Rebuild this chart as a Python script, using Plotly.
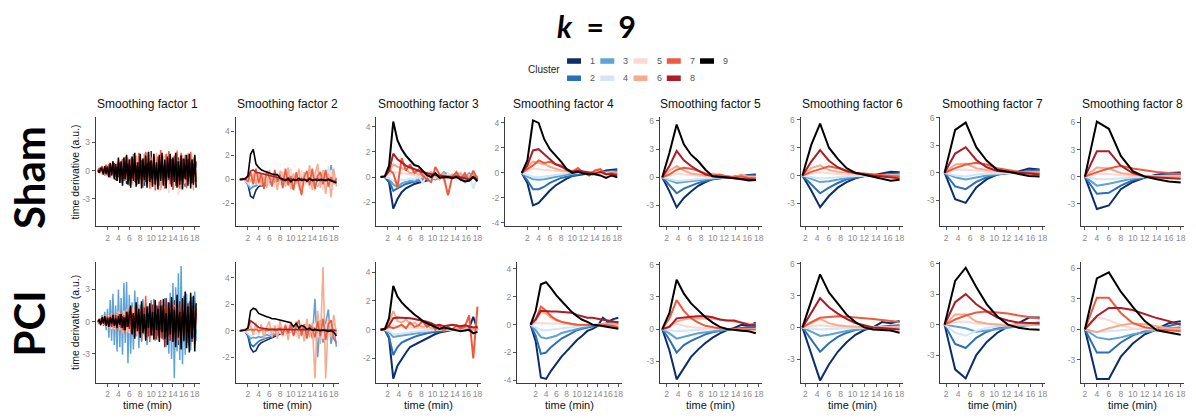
import plotly.graph_objects as go

W, H = 1196, 418

CLUSTERS = ["1", "2", "3", "4", "5", "6", "7", "8", "9"]
COLORS = ["#0b2d6b", "#2b6fb5", "#5ea3d7", "#d4e5f3", "#fadad3",
          "#f6ab8e", "#ef5a3c", "#b01c26", "#000000"]
ROWS = ["Sham", "PCI"]
TITLES = ["Smoothing factor %d" % i for i in range(1, 9)]
TIME_STEP = [0.25, 0.5, 0.75, 1.0, 1.25, 1.5, 1.75, 2.0]
XTICKS = [2, 4, 6, 8, 10, 12, 14, 16, 18]
YTICKS = [[-3, 0, 3], [-2, 0, 2, 4], [-2, 0, 2, 4], [-4, -2, 0, 2, 4],
          [-3, 0, 3, 6], [-3, 0, 3, 6], [-3, 0, 3, 6], [-3, 0, 3, 6]]
YRANGE_SHAM = [[-5.9, 5.7], [-3.9, 5.2], [-3.9, 4.75], [-4.26, 4.47],
               [-5.2, 6.4], [-5.45, 6.3], [-5.86, 6.1], [-5.5, 6.6]]
YRANGE_PCI = [[-5.7, 5.6], [-3.9, 5.2], [-3.67, 4.73], [-4.16, 4.53],
              [-5.0, 6.3], [-5.2, 6.2], [-5.7, 6.2], [-5.25, 6.66]]
XRANGE_SHAM = [[-0.14, 18.9], [-0.29, 19.06], [-0.01, 18.66], [-1.96, 18.84],
               [0.84, 18.52], [1.2, 18.66], [1.06, 18.44], [1.38, 18.55]]
XRANGE_PCI = [[-0.14, 18.9], [-0.29, 19.06], [-0.01, 18.66], [-1.6, 18.7],
              [0.84, 18.52], [1.2, 18.66], [1.06, 18.44], [1.38, 18.55]]

# ---------------- Sham ----------------
SHAM_SF1 = [
    [-0.1, 0.2, -0.3, 0.1, 0.4, -0.5, 0.2, -0.3, 0.5, -0.7, 0.4, -0.3, 0.8, -1.0, 0.6, -0.4,
     0.9, -0.8, 1.2, -1.1, 0.5, -1.4, 0.7, 1.0, -0.9, 1.3, -0.6, 0.8, -1.3, 1.1, -0.5, 1.5,
     -1.2, 0.6, -1.6, 1.9, -0.8, 1.2, -1.0, 2.1, -1.4, 0.7, -1.1, 1.5, -0.6, 1.3, -1.8, 0.9,
     -1.5, 1.7, -0.8, 1.0, -1.3, 1.6, -0.7, -2.0, 1.2, -1.6, 0.9, 1.4, -1.9, 0.8, -1.2, 1.1,
     -1.7, 1.3, -0.9, 0.7, -1.4, 1.5, -1.1, 0.6, -1.0],
    [0.1, -0.2, 0.3, -0.1, 0.2, -0.4, 0.3, 0.1, -0.5, 0.4, -0.2, 0.6, -0.5, 0.3, -0.7, 0.5,
     -0.4, 0.8, -0.6, 0.3, -0.9, 0.7, -0.3, 0.6, -1.0, 0.5, 0.9, -0.7, 0.4, -1.1, 0.8, -0.5,
     1.0, -0.9, 0.6, -0.4, 1.2, -1.0, 0.5, -0.8, 1.1, -0.6, 0.7, -1.2, 0.9, -0.3, 1.0, -0.9,
     0.4, -1.1, 1.2, -0.6, 0.8, -1.0, 0.5, 0.9, -1.2, 0.7, -0.5, 1.1, -0.8, 0.6, -1.0, 1.2,
     -0.7, 0.9, -1.1, 0.4, 1.0, -0.8, 0.6, -1.2, 0.8],
    [-0.2, 0.1, 0.3, -0.3, 0.2, 0.5, -0.4, 0.3, -0.6, 0.2, 0.7, -0.5, 0.4, -0.8, 0.6, -0.3,
     0.9, -0.7, 0.5, -1.0, 0.8, -0.4, 1.1, -0.9, 0.3, -1.2, 1.0, -0.6, 0.7, -1.1, 1.3, -0.5,
     0.8, -1.3, 0.6, 1.0, -0.9, 0.4, -1.2, 1.1, -0.7, 0.9, -1.4, 0.5, 1.2, -0.8, 0.6, -1.0,
     1.3, -1.1, 0.4, -0.9, 1.0, -1.3, 0.8, -0.5, 1.2, -0.6, 0.9, -1.4, 0.7, 1.1, -1.2, 0.5,
     -0.8, 1.3, -1.0, 0.6, -1.1, 0.9, -0.4, 1.2, -0.9],
    [0.2, -0.1, -0.3, 0.4, -0.2, 0.3, 0.5, -0.6, 0.4, -0.3, 0.7, -0.8, 0.2, 0.6, -0.9, 0.5,
     -0.4, 1.0, -0.7, 0.3, 1.2, -1.1, 0.6, -0.5, 0.9, -1.3, 0.4, 1.1, -0.8, 0.5, -1.4, 1.0,
     -0.6, 1.3, -1.0, 0.7, -1.5, 0.8, 1.2, -0.9, 0.5, -1.3, 1.4, -0.6, 0.9, -1.1, 0.3, 1.5,
     -1.2, 0.7, -0.8, 1.3, -1.4, 0.6, 1.0, -1.1, 0.4, 1.4, -1.5, 0.8, -0.7, 1.2, -1.0, 0.9,
     -1.3, 0.5, 1.1, -1.2, 0.7, -0.6, 1.4, -0.9, 0.3],
    [-0.1, 0.3, -0.2, -0.4, 0.5, -0.3, 0.6, -0.7, 0.3, 0.8, -0.9, 0.4, -0.6, 1.0, -0.8, 0.5,
     1.1, -1.2, 0.6, -0.5, 1.3, -1.0, 0.4, -1.4, 0.9, 1.2, -1.6, 0.7, -0.8, 1.5, -1.1, 0.5,
     -1.8, 1.3, 0.6, -1.2, 1.7, -0.9, 0.8, -2.0, 1.4, -0.7, 1.1, -1.6, 0.9, -2.2, 1.5, 0.6,
     -1.3, 1.8, -1.0, 0.7, -2.4, 1.2, -0.8, 1.6, -1.9, 0.9, 1.3, -2.6, 1.1, -0.6, 1.7, -1.4,
     0.8, -2.0, 1.5, -1.1, 0.6, 1.9, -1.7, 0.9, -1.2],
    [0.2, -0.3, 0.4, -0.1, 0.3, -0.5, 0.7, -0.4, -0.6, 0.9, -0.3, 0.6, -1.0, 0.8, -0.5, 1.1,
     -0.9, 0.4, -1.3, 1.2, -0.7, 0.6, 1.4, -1.1, 0.5, -1.5, 1.3, -0.8, 1.6, -0.4, -1.2, 1.7,
     -1.4, 0.7, 1.8, -1.6, 0.9, -1.1, 2.0, -0.8, -1.7, 1.5, -0.6, 1.9, -1.3, 0.8, -2.1, 1.2,
     1.6, -1.8, 0.7, -1.0, 2.1, -1.5, 0.9, -1.9, 1.4, -0.7, 2.2, -1.2, 0.6, -2.0, 1.7, -1.1,
     1.0, -1.6, 1.9, -0.8, -1.4, 1.3, -2.1, 1.5, -0.7],
    [0.1, 0.3, -0.2, 0.5, -0.4, 0.2, 0.6, -0.5, 0.7, -0.6, 0.3, 1.0, -0.8, 0.5, -1.1, 0.9,
     0.4, -1.3, 1.2, -0.7, 1.5, -1.0, 0.8, -1.6, 1.3, -0.4, 1.8, -1.2, 0.6, -1.5, 1.9, -0.9,
     1.1, -1.8, 0.7, 2.0, -1.3, 0.5, -1.9, 1.4, -0.8, 1.7, -2.1, 0.9, 1.5, -1.6, 2.2, -1.0,
     0.6, -1.9, 1.8, -0.7, 2.1, -1.4, 1.2, -2.0, 1.6, -0.9, 2.0, -1.7, 0.8, 1.9, -1.5, -0.6,
     1.7, -1.8, 1.1, -0.8, 2.0, -1.3, 0.9, 1.6, -1.2],
    [0.1, -0.1, 0.2, 0.4, -0.2, 0.3, -0.4, 0.5, -0.3, 0.6, -0.5, 0.2, 0.8, -0.6, 0.4, -0.7,
     0.9, -0.5, 0.3, -0.9, 1.0, -0.4, 0.7, -1.1, 0.6, -0.8, 1.2, -0.3, 0.5, -1.0, 0.9, -0.6,
     1.1, -0.7, 0.4, -1.2, 0.8, -0.5, 1.0, -0.9, 0.3, 1.2, -1.1, 0.6, -0.8, 1.3, -0.4, 0.7,
     -1.2, 0.9, -0.6, 1.1, -1.0, 0.5, 1.2, -0.7, 0.8, -1.3, 1.0, -0.5, 0.6, -1.1, 1.3, -0.8,
     0.5, -1.0, 1.2, -0.6, 0.9, -1.3, 0.7, -0.4, 1.0],
    [0.0, -0.2, 0.3, 0.1, -0.4, 0.5, -0.3, 0.4, -0.7, 0.8, -0.5, 1.0, -0.9, 0.7, -1.1, 1.4,
     -1.3, 1.0, -1.6, 1.4, -0.9, 1.7, -1.5, 1.2, -1.8, 1.5, -1.1, 1.9, -1.7, 0.9, -1.4, 1.8,
     -1.9, 1.3, -1.0, 1.6, -1.8, 2.0, -1.2, 1.1, -1.7, 1.8, -1.5, 0.9, -2.0, 1.7, -1.1, 1.9,
     -1.6, 1.2, -1.9, 1.5, -0.8, 1.8, -1.7, 1.4, -1.2, 1.9, -1.8, 1.0, -1.5, 1.6, -2.0, 1.3,
     -0.9, 1.7, -1.6, 1.8, -1.9, 1.2, -1.5, 1.7, -1.8],
]
SHAM_SF2 = [
    [0, 0, -0.05, -0.4, -1.4, -1.55, -0.9, -0.6, -0.5, -0.55, -0.45, -0.4, -0.3, -0.25, -0.2,
     -0.15, -0.1, -0.05, 0.0, -0.1, 0.05, 0.0, -0.05, 0.1, 0.0, -0.05, 0.05, 0.0, 0.1, -0.05,
     0.0, 0.05, -0.1, 0.0, 0.05, -0.05, 0.0],
    [0, 0, -0.05, -0.3, -0.7, -0.6, -0.5, -0.45, -0.4, -0.35, -0.3, -0.25, -0.2, -0.15, -0.1,
     -0.1, 0.0, -0.1, 0.1, -0.2, 0.0, 0.1, -0.1, 0.2, 0.0, -0.2, 0.1, 0.0, -0.1, 0.2,
     -0.1, 0.1, 0.0, -0.1, 0.1, 0.0, -0.1],
    [0, 0, -0.1, -0.4, -0.8, -0.6, -0.5, -0.4, -0.3, -0.2, -0.1, 0.2, -0.3, 0.1, 0.3,
     -0.4, 0.5, -0.2, 0.9, -0.5, -0.8, 0.4, -0.3, 0.6, -0.5, 0.2, 0.8, -0.4, 0.3, -0.6,
     0.5, -0.2, 0.7, -0.5, 1.2, -0.4, -0.1],
    [0, 0, -0.1, -0.3, -0.6, -0.4, -0.2, -0.5, 0.1, -0.3, 0.4, -0.6, 0.2, 0.5, -0.4,
     0.6, -0.8, 0.3, -0.2, 0.9, -0.5, 0.4, -0.9, 0.7, -0.3, 0.8, -0.6, 0.5, -1.0, 0.9,
     -0.4, 0.6, -0.7, 1.1, -0.5, 0.3, -0.4],
    [0, 0.05, -0.1, 0.2, -0.3, 0.4, -0.2, 0.3, -0.5, 0.6, -0.4, 0.2, 0.5, -0.6, 0.3,
     -0.4, 0.7, -0.5, 0.2, 0.6, -0.7, 0.4, -0.3, 0.8, -0.6, 0.5, -0.8, 0.3, 0.6, -0.5,
     0.7, -0.9, 0.4, -0.6, 0.8, -0.4, 0.2],
    [0, 0.1, -0.1, 0.3, -0.2, 0.5, -0.4, 0.6, -0.5, 0.3, -0.7, 0.8, -0.3, 0.5, -0.9,
     0.7, 0.4, -0.6, 1.0, -0.8, 0.5, -0.4, 0.9, -1.1, 0.6, -0.3, 1.2, -0.9, 0.4, 1.3,
     -0.7, 0.8, -1.2, 0.5, -1.5, 0.9, -0.6],
    [0, 0, 0.1, -0.2, 0.6, -0.4, 0.9, -0.3, 0.5, -0.8, 0.7, 0.2, -0.6, 0.8, -0.2,
     0.4, -0.7, 0.9, -0.5, 0.3, -0.9, 0.6, -0.4, -1.3, 0.2, 0.7, -0.5, 0.9, -0.8, 0.3,
     0.6, -0.4, 0.8, -0.6, 0.2, -0.3, 0.1],
    [0, 0, 0.05, 0.2, 0.7, 0.8, 0.6, 0.55, 0.5, 0.45, 0.4, 0.35, 0.3, 0.2, 0.15,
     0.1, 0.05, 0, -0.1, 0.05, -0.05, 0, -0.1, 0.05, 0, -0.05, 0.1, -0.05, 0, 0.05,
     -0.1, 0, -0.05, 0.05, -0.1, -0.15, -0.2],
    [0, 0, 0.05, 0.3, 2.1, 2.5, 1.3, 1.0, 0.8, 0.7, 0.6, 0.55, 0.45, 0.4, 0.4,
     0.1, 0.0, -0.1, 0.1, -0.2, 0.0, -0.1, 0.1, -0.1, 0.0, -0.15, 0.05, -0.1, 0.0, -0.1,
     0.0, -0.05, -0.1, 0.0, -0.1, -0.2, -0.3],
]
SHAM_SF3 = [
    [0, 0, -0.4, -2.5, -1.75, -1.2, -0.9, -0.7, -0.55, -0.45, -0.35, -0.25, -0.2, -0.1, -0.1,
     -0.05, 0.0, 0.1, 0.05, 0.2, 0.0, -0.1, 0.1, -0.2],
    [0, 0, -0.3, -1.1, -0.9, -0.7, -0.55, -0.45, -0.35, -0.3, -0.2, -0.1, -0.1, 0.0, 0.0,
     0.05, 0.0, 0.1, 0.0, 0.05, -0.05, 0.0, 0.1, 0.0],
    [0, 0, -0.15, -0.6, -0.8, -0.5, -0.4, -0.3, -0.3, -0.2, -0.1, 0.1, 0.2, -0.2, 0.0,
     0.4, 0.2, 0.0, 0.3, 0.2, -0.1, 0.3, 0.0, -0.2],
    [0, 0, -0.1, -0.3, -0.3, -0.2, -0.25, -0.1, -0.2, 0.1, -0.5, 0.2, -0.3, 0.1, 0.2,
     -0.3, 0.3, 0.0, -0.2, 0.4, -0.5, 0.2, -0.9, 0.0],
    [0, 0, 0.2, 0.4, 0.35, 0.3, 0.25, 0.2, 0.15, 0.1, 0.05, 0.1, 0.0, -0.1, 0.1,
     -0.2, 0.0, 0.2, -0.1, 0.1, -0.2, 0.0, 0.1, -0.1],
    [0, 0.05, 0.4, 1.0, 0.8, 0.7, 0.6, 0.3, 0.4, 0.2, 0.3, 0.0, 0.4, 0.1, -0.2,
     0.3, -0.1, 0.2, 0.0, 0.3, -0.2, 0.1, -0.1, 0.0],
    [0, 0.05, 0.6, 0.3, -0.8, 1.5, 0.5, 1.0, 0.3, 0.6, 0.1, -0.2, -0.4, 0.8, 0.2,
     0.0, -1.45, 0.0, 0.4, -0.2, 0.3, -0.3, 0.5, -0.2],
    [0, 0.05, 0.5, 1.85, 1.4, 1.15, 0.9, 0.75, 0.6, 0.5, 0.4, 0.3, 0.2, 0.15, 0.1,
     0.05, 0.0, 0.0, 0.05, 0.0, -0.1, -0.2, 0.0, -0.2],
    [0, 0.05, 0.9, 4.4, 2.9, 2.2, 1.7, 1.35, 0.95, 0.85, 0.5, 0.15, 0.0, 0.3, -0.05,
     0.0, 0.0, -0.1, 0.0, -0.2, -0.35, -0.3, 0.0, -0.35],
]
SHAM_SF4 = [
    [0, -0.8, -2.6, -2.4, -1.9, -1.4, -1.0, -0.7, -0.45, -0.25, -0.15, -0.1, -0.05, 0.0, 0.05, 0.2, 0.25, 0.3],
    [0, -0.6, -1.3, -1.3, -1.1, -0.8, -0.6, -0.4, -0.3, -0.2, -0.1, -0.05, 0.0, 0.0, 0.05, 0.1, 0.15, 0.2],
    [0, -0.3, -0.5, -0.55, -0.5, -0.4, -0.3, -0.2, -0.1, -0.05, 0.0, 0.0, 0.0, 0.05, 0.0, 0.05, 0.1, 0.05],
    [0, -0.15, -0.3, -0.35, -0.3, -0.2, -0.15, -0.1, 0.0, 0.2, 0.0, 0.1, -0.05, 0.0, 0.1, 0.0, 0.05, 0.0],
    [0, 0.2, 0.35, 0.3, 0.25, 0.2, 0.15, 0.1, 0.05, 0.05, 0.0, 0.0, 0.0, 0.05, 0.0, 0.0, 0.0, 0.0],
    [0, 0.5, 0.9, 0.8, 0.7, 0.5, 0.35, 0.2, 0.15, 0.1, 0.05, 0.0, 0.0, 0.1, 0.0, -0.1, 0.0, 0.0],
    [0, 0.3, 0.6, 1.0, 0.8, 0.9, 0.7, 0.6, 0.2, 0.1, 0.4, 0.0, -0.2, 0.2, 0.3, -0.1, 0.0, -0.1],
    [0, 0.6, 1.8, 1.9, 1.5, 1.1, 0.7, 0.5, 0.3, 0.1, 0.2, 0.1, 0.0, -0.05, 0.1, -0.1, -0.1, -0.2],
    [0, 1.0, 4.2, 4.0, 2.7, 1.9, 1.4, 0.9, 0.3, 0.0, 0.1, -0.05, -0.1, -0.1, -0.2, -0.4, -0.2, -0.35],
]
SHAM_SF5 = [
    [0, -1.5, -3.2, -2.2, -1.5, -0.9, -0.5, -0.2, -0.1, 0.0, 0.05, 0.1, 0.25, 0.3],
    [0, -0.8, -1.7, -1.2, -0.9, -0.6, -0.4, -0.2, -0.1, 0.0, 0.05, 0.1, 0.2, 0.2],
    [0, -0.3, -0.6, -0.5, -0.4, -0.3, -0.2, -0.1, -0.05, 0.0, 0.05, 0.1, 0.1, 0.1],
    [0, -0.2, -0.4, -0.35, -0.25, -0.2, -0.1, -0.05, 0.0, 0.0, 0.0, 0.05, 0.0, 0.0],
    [0, 0.2, 0.4, 0.3, 0.2, 0.15, 0.1, 0.05, 0.0, 0.0, 0.0, 0.0, 0.0, 0.0],
    [0, 0.7, 1.2, 0.7, 0.4, 0.3, 0.2, 0.4, 0.2, 0.1, 0.0, 0.3, 0.0, 0.0],
    [0, 0.3, 0.8, 1.0, 0.9, 0.7, 0.4, 0.2, 0.3, 0.1, 0.0, 0.1, -0.1, -0.1],
    [0, 1.2, 2.8, 1.8, 1.2, 0.7, 0.3, 0.1, 0.0, 0.0, -0.1, -0.15, -0.2, -0.25],
    [0, 2.6, 5.6, 3.5, 2.4, 1.7, 0.8, 0.1, 0.05, 0.0, -0.1, -0.2, -0.35, -0.3],
]
SHAM_SF6 = [
    [0, -1.6, -3.4, -2.2, -1.3, -0.7, -0.3, -0.05, 0.05, 0.2, 0.4, 0.35],
    [0, -0.9, -1.9, -1.3, -0.8, -0.4, -0.2, -0.05, 0.0, 0.1, 0.2, 0.25],
    [0, -0.35, -0.7, -0.6, -0.4, -0.25, -0.1, -0.05, 0.0, 0.05, 0.1, 0.1],
    [0, -0.15, -0.3, -0.25, -0.15, -0.1, -0.05, 0, 0, 0, 0, 0],
    [0, 0.2, 0.35, 0.25, 0.15, 0.1, 0.05, 0.0, 0.0, 0.0, 0.0, 0.0],
    [0, 0.8, 1.1, 0.6, 0.4, 0.3, 0.2, 0.1, 0.05, 0.0, 0.0, 0.0],
    [0, 0.4, 0.7, 1.0, 0.8, 0.5, 0.3, 0.2, 0.1, 0.0, -0.05, -0.1],
    [0, 1.5, 2.75, 1.6, 0.9, 0.5, 0.25, 0.1, 0.0, -0.1, -0.2, -0.3],
    [0, 3.3, 5.6, 3.0, 1.8, 0.8, 0.3, 0.1, -0.1, -0.3, -0.55, -0.45],
]
SHAM_SF7 = [
    [0, -2.9, -3.3, -1.6, -0.7, -0.2, 0.0, 0.15, 0.45, 0.35],
    [0, -1.5, -1.8, -1.0, -0.5, -0.2, -0.05, 0.05, 0.2, 0.3],
    [0, -0.5, -0.75, -0.5, -0.3, -0.15, -0.05, 0.0, 0.1, 0.1],
    [0, -0.3, -0.4, -0.2, -0.1, -0.05, 0, 0, 0, 0],
    [0, 0.3, 0.35, 0.2, 0.1, 0.05, 0, 0, 0, 0],
    [0, 0.9, 1.0, 0.5, 0.3, 0.2, 0.1, 0.0, 0.0, 0.0],
    [0, 0.5, 0.9, 1.1, 0.9, 0.5, 0.3, 0.1, 0.0, -0.1],
    [0, 2.1, 2.8, 1.4, 0.6, 0.2, 0.1, 0.0, -0.1, -0.2],
    [0, 4.7, 5.5, 2.8, 1.3, 0.3, 0.1, -0.1, -0.35, -0.4],
]
SHAM_SF8 = [
    [0, -3.6, -3.2, -1.4, -0.6, -0.1, 0.2, 0.4, 0.45],
    [0, -1.9, -1.8, -1.0, -0.4, -0.1, 0.1, 0.2, 0.3],
    [0, -1.0, -0.8, -0.5, -0.2, -0.05, 0.05, 0.1, 0.1],
    [0, -0.3, -0.3, -0.2, -0.1, 0, 0, 0, 0],
    [0, 0.3, 0.3, 0.15, 0.05, 0, 0, 0, 0],
    [0, 1.0, 0.9, 0.4, 0.2, 0.1, 0.0, 0.0, 0.0],
    [0, 0.5, 0.9, 1.2, 0.9, 0.7, 0.5, 0.4, 0.3],
    [0, 2.8, 2.8, 1.2, 0.4, 0.0, -0.1, -0.2, -0.25],
    [0, 6.1, 5.3, 2.3, 0.6, 0.0, -0.3, -0.55, -0.65],
]

# ---------------- PCI ----------------
PCI_SF1 = [
    [0.0, -0.1, 0.2, -0.2, 0.3, -0.1, 0.2, -0.3, 0.4, -0.3, 0.2, -0.5, 0.4, -0.2, 0.6, -0.4,
     0.3, -0.7, 0.5, -0.3, 0.8, -0.6, 0.4, -0.9, 0.7, -0.5, 1.0, -0.8, 0.3, -1.1, 0.9, -0.6,
     1.2, -0.9, 0.5, -1.3, 1.0, -0.7, 1.4, -1.1, 0.6, -1.2, 1.3, -0.8, 1.1, -1.5, 0.7, -1.0,
     1.4, -1.2, 0.6, -1.6, 1.7, -0.9, 1.2, -1.8, 2.0, -1.4, 1.1, -2.2, 1.6, -0.8, 2.1, -1.9,
     2.4, -1.7, 1.3, -2.3, 2.0, -1.5, 1.8, -2.1, 1.2],
    [0.1, -0.2, 0.1, 0.3, -0.4, 0.2, -0.5, 0.4, -0.3, 0.6, -0.7, 0.5, -0.4, 0.8, -0.6, 0.3,
     -0.9, 0.7, -0.5, 1.0, -0.8, 0.6, -1.1, 0.9, -0.4, 1.2, -1.0, 0.7, -1.3, 0.8, -0.6, 1.1,
     -0.9, 1.3, -1.2, 0.5, -1.0, 1.4, -0.7, 0.9, -1.3, 1.1, -0.8, 1.5, -1.1, 0.6, -1.4, 1.2,
     -0.9, 1.6, -1.5, 0.8, -1.2, 1.4, -1.0, 1.7, -1.6, 0.9, -1.3, 1.8, -0.7, 1.2, -1.9, 1.5,
     -1.1, 1.6, -1.4, 0.8, -1.7, 1.3, -1.0, 1.9, -1.2],
    [0.0, 0.3, -0.4, 0.6, -0.2, 0.9, -0.8, 1.2, -1.5, 2.0, -1.8, 2.6, -2.2, 1.5, -2.8, 3.0,
     -2.4, 2.2, -3.1, 3.6, -2.0, 3.7, -3.9, 2.5, -3.0, 1.8, -2.6, 2.9, -1.4, 2.3, -2.5, 1.6,
     -1.9, 2.1, -1.2, 1.7, -2.2, 1.4, -1.6, 2.0, -1.1, 1.5, -1.8, 0.9, -1.3, 1.9, -1.0, 1.2,
     -1.6, 2.2, -2.4, 1.8, -3.0, 2.7, -3.5, 3.6, -5.3, 3.2, -2.8, 4.5, -3.6, 5.2, -4.0, 2.4,
     -3.1, 2.6, -2.0, 1.9, -2.7, 2.3, -1.5, 2.8, -1.8],
    [-0.1, 0.2, -0.3, 0.2, 0.1, -0.4, 0.5, -0.2, 0.3, -0.6, 0.4, 0.5, -0.7, 0.3, -0.4, 0.8,
     -0.5, 0.6, -0.9, 0.4, 0.7, -1.0, 0.5, -0.6, 1.1, -0.8, 0.3, -1.2, 0.9, -0.5, 0.8, -1.0,
     0.6, 1.2, -1.1, 0.4, -0.7, 1.0, -1.3, 0.5, 0.9, -0.8, 1.2, -1.0, 0.3, -1.1, 1.3, -0.6,
     0.7, -1.2, 1.0, -0.5, 1.4, -0.9, 0.6, -1.3, 1.1, -0.7, 0.8, -1.4, 1.2, -0.4, -1.0, 1.3,
     -0.6, 0.9, -1.2, 1.0, -0.8, 0.5, -1.1, 1.2, -0.7],
    [0.2, -0.1, 0.3, -0.4, 0.1, 0.5, -0.3, -0.5, 0.6, -0.2, -0.7, 0.5, 0.3, -0.8, 0.7, -0.4,
     0.9, -0.6, -0.5, 1.0, -0.9, 0.4, 0.8, -1.1, 0.6, -0.7, 1.2, -0.9, 0.5, -1.2, 1.0, 0.4,
     -1.0, 0.8, -1.3, 0.6, 1.1, -0.8, 0.5, -1.2, 1.3, -0.7, 0.9, -1.1, 0.4, 1.2, -1.3, 0.6,
     -0.9, 1.1, -0.5, 1.3, -1.2, 0.7, -0.8, 1.0, -1.4, 0.9, 0.6, -1.1, 1.3, -0.9, 0.5, -1.2,
     1.0, -0.6, 1.4, -1.3, 0.8, -0.5, 1.2, -1.0, 0.6],
    [0.1, 0.3, -0.2, 0.4, -0.3, 0.2, 0.6, -0.5, 0.3, -0.7, 0.8, -0.4, 0.5, -0.9, 0.6, 1.0,
     -0.8, 0.4, -1.1, 0.9, -0.5, 1.2, -1.0, 0.7, -0.6, 1.3, -1.1, 0.5, 1.0, -1.3, 0.8, -0.4,
     1.4, -1.2, 0.6, -0.9, 1.5, -0.7, 1.1, -1.4, 0.8, -1.0, 1.6, -1.3, 0.5, 1.2, -1.5, 0.9,
     -0.6, 1.4, -1.1, 0.7, -1.6, 1.3, -0.8, 1.0, 1.5, -1.4, 0.6, -1.0, 1.7, -1.2, 0.8, -1.5,
     1.3, -0.7, 1.6, -1.1, 0.9, -1.4, 1.2, -0.6, 1.0],
    [0.1, -0.2, 0.3, -0.1, 0.4, -0.3, 0.2, 0.5, -0.4, 0.6, -0.3, 0.8, -0.6, 0.4, -0.9, 0.7,
     -0.5, 1.0, -0.8, 0.6, -1.1, 0.9, -0.4, 1.2, -1.0, 0.7, -1.4, 1.3, -0.6, 1.6, -1.2, 0.9,
     -1.8, 1.4, -0.7, 2.4, -1.5, 0.8, -1.9, 1.7, -1.1, 2.1, -1.6, 0.9, -1.3, 1.8, -0.8, 1.5,
     -1.7, 1.2, -0.9, 1.6, -1.4, 0.7, -1.2, 1.9, -1.5, 0.8, 1.3, -1.8, 1.1, -0.6, 1.7, -1.3,
     0.9, -1.6, 1.4, -1.0, 1.8, -1.2, 0.7, -1.5, 1.1],
    [0.0, 0.1, -0.2, 0.3, -0.1, 0.2, -0.3, 0.4, -0.2, 0.3, -0.5, 0.4, -0.3, 0.6, -0.4, 0.2,
     0.7, -0.6, 0.5, -0.8, 0.4, -0.5, 0.9, -0.7, 0.6, -1.0, 0.8, -0.4, 1.1, -0.9, 0.5, -1.2,
     1.0, -0.6, 1.3, -1.1, 0.7, -1.4, 1.2, -0.8, 1.6, -1.3, 0.9, -1.7, 1.5, -1.0, 2.0, -1.6,
     1.1, -2.4, 2.2, -1.2, 0.8, -1.8, 1.6, -0.9, 1.4, -1.5, 0.7, -1.1, 1.9, -1.3, 0.6, -1.6,
     1.2, -0.8, 1.7, -1.4, 0.9, -1.9, 1.5, -1.0, 0.8],
    [0.0, 0.2, -0.3, 0.4, -0.2, 0.5, -0.4, 0.3, -0.5, 0.4, -0.2, 0.6, -0.4, 0.3, -0.6, 0.5,
     -0.3, 0.7, -0.6, 0.4, -0.8, 0.9, -0.5, 0.6, 1.5, -1.2, 0.8, -1.6, 1.8, -0.9, 1.2, -1.5,
     1.9, -1.1, 0.7, -1.8, 1.4, -0.6, 1.7, -1.3, 0.9, -1.7, 2.0, -0.8, 1.2, -1.9, 1.5, -1.0,
     2.1, -1.6, 0.8, -2.2, 1.8, -1.2, 2.3, -1.9, 1.1, -2.4, 2.5, -1.5, 0.9, -2.6, 2.2, -1.8,
     2.8, -2.5, 1.4, -2.9, 2.7, -1.6, 2.4, -2.8, 1.7],
]
PCI_SF2 = [
    [0, 0, -0.05, -0.4, -1.3, -1.6, -1.5, -1.1, -0.9, -0.8, -0.7, -0.6, -0.5, -0.4, -0.3,
     -0.25, -0.2, -0.15, -0.1, -0.05, 0.0, -0.05, 0.0, 0.05, 0.0, -0.05, 0.0, 0.05, 0.0, 0.1,
     0.0, -0.05, 0.05, 0.0, -0.05, 0.0, 0.05],
    [0, 0, -0.05, -0.3, -1.0, -1.2, -1.0, -0.8, -0.7, -0.6, -0.55, -0.5, -0.4, -0.3, -0.2,
     -0.15, -0.1, -0.1, 0.0, -0.05, 0.0, 0.05, -0.05, 0.0, 0.05, -0.05, 0.1, -0.1, 0.2, -0.1,
     0.1, -0.05, 0.1, 0.0, -0.1, 0.05, 0.0],
    [0, 0, -0.1, -0.3, -0.6, -0.5, -0.55, -0.45, -0.5, -0.4, -0.3, -0.35, -0.2, -0.3, 0.1,
     -0.2, 0.2, -0.3, 0.3, -0.1, 0.4, -0.3, 0.2, -0.4, 0.3, -0.2, 0.5, -0.6, 2.4, -2.0,
     0.8, -0.9, 0.6, 1.6, -1.0, 0.3, -1.2],
    [0, 0, -0.1, -0.2, -0.4, -0.3, -0.2, -0.3, 0.1, -0.2, 0.2, -0.3, 0.1, 0.3, -0.2,
     0.2, -0.4, 0.3, -0.1, 0.4, -0.3, 0.2, -0.4, 0.3, -0.2, 0.5, -0.4, 0.3, 0.6, -0.5,
     0.4, -0.6, 0.5, -0.3, 0.4, -0.5, 0.2],
    [0, 0.05, 0.1, 0.2, 0.3, 0.1, 0.2, -0.1, 0.3, -0.2, 0.1, 0.3, -0.3, 0.2, 0.4,
     -0.2, 0.3, -0.4, 0.5, -0.1, 0.3, -0.5, 0.4, 0.2, -0.4, 0.6, -0.3, 0.4, -0.8, 0.7,
     -0.5, 1.0, -0.6, 0.4, -0.3, 0.5, -0.2],
    [0, 0, 0.1, 0.2, 0.4, -0.3, 0.6, -0.2, 0.5, -0.6, 0.3, 0.7, -0.5, 0.4, -0.6,
     0.8, -0.4, 0.5, -0.7, 0.6, -0.3, 0.7, -0.6, 0.4, -0.8, 0.9, -0.5, 0.6, -3.6, 1.5,
     -1.0, 4.8, -3.6, 0.9, -0.5, 1.2, -0.3],
    [0, 0, 0, 0.05, 0.1, 0.05, 0.1, 0, 0.05, 0.1, 0, 0.05, 0.1, 0, 0.05,
     0.2, -0.3, 0.4, -0.2, 0.5, -0.4, 0.3, 0.8, -0.3, 0.5, -0.6, 0.4, 0.2, -0.5, 0.7,
     -0.4, 0.9, -0.7, 0.5, 0.8, -0.6, -0.9],
    [0, 0, 0.05, 0.2, 0.75, 0.6, 0.4, 0.25, 0.2, 0.15, 0.15, 0.1, 0.1, 0.1, 0.1,
     0.05, 0.1, 0.05, 0.1, 0.05, 0.1, 0.05, 0.1, 0.05, 0.1, 0.05, 0.1, 0.05, 0.1, 0.05,
     0.1, 0.05, 0.05, 0.1, 0.05, 0.05, 0.0],
    [0, 0, 0.05, 0.2, 1.5, 1.7, 1.6, 1.3, 1.2, 1.1, 1.05, 1.0, 0.9, 0.9, 0.85,
     0.8, 0.75, 0.7, 0.65, 0.6, 0.3, 0.55, 0.2, 0.4, 0.3, 0.1, 0.2, 0.05, 0.1, 0.05,
     0.0, 0.05, 0.0, -0.05, 0.0, -0.1, -0.4],
]
PCI_SF3 = [
    [0, 0, -0.6, -3.4, -2.5, -2.0, -1.6, -1.2, -1.05, -0.9, -0.7, -0.55, -0.4, -0.3, -0.2,
     -0.15, -0.1, 0.0, 0.05, 0.1, 0.0, 0.1, 0.9, 0.0],
    [0, 0, -0.5, -1.75, -1.2, -0.9, -0.75, -0.6, -0.5, -0.4, -0.3, -0.25, -0.2, -0.15, -0.1,
     -0.05, 0.0, 0.0, 0.0, 0.05, 0.0, 0.0, 0.0, 0.0],
    [0, 0, -0.2, -0.5, -0.45, -0.4, -0.35, -0.3, -0.25, -0.2, -0.15, -0.1, -0.05, 0.0, 0.0,
     0.0, 0.05, 0.0, 0.0, 0.05, 0.0, 0.05, 0.0, 0.0],
    [0, 0, -0.1, -0.3, -0.3, -0.25, -0.2, -0.2, -0.15, -0.1, -0.1, -0.05, -0.05, 0.0, 0.0,
     0.0, 0.0, 0.0, 0.0, 0.05, 0.0, 0.0, 0.0, 0.0],
    [0, 0, 0.1, 0.3, 0.25, 0.2, 0.2, 0.15, 0.1, 0.1, 0.05, 0.05, 0.0, 0.05, 0.0,
     0.0, 0.05, 0.0, 0.0, 0.05, 0.0, 0.0, 0.0, 0.0],
    [0, 0.05, 0.5, 1.3, 0.6, 0.5, 0.7, 0.4, 0.5, 0.3, 0.2, 0.3, 0.1, 0.2, 0.0,
     0.1, 0.2, 0.0, 0.1, 0.0, 0.2, -0.1, 0.0, 0.1],
    [0, 0.05, 0.2, 0.1, 0.2, 0.35, 0.1, 0.5, 0.2, 0.3, 0.6, 0.2, 0.4, 0.0, 0.3,
     -0.1, 0.2, 0.0, 0.3, 0.1, 0.2, 1.0, -2.0, 1.6],
    [0, 0.05, 0.3, 0.8, 0.85, 0.85, 0.8, 0.8, 0.75, 0.7, 0.65, 0.55, 0.45, 0.3, 0.35,
     0.25, 0.3, 0.35, 0.3, 0.25, 0.3, 0.2, 0.15, 0.2],
    [0, 0.05, 0.8, 3.05, 2.3, 1.9, 1.6, 1.3, 1.05, 0.85, 0.6, 0.45, 0.3, 0.2, 0.05,
     0.15, 0.1, 0.05, -0.05, -0.1, -0.05, 0.0, -0.25, -0.15],
]
PCI_SF4 = [
    [0, -1.2, -3.8, -3.9, -3.3, -2.8, -2.3, -1.9, -1.5, -1.1, -0.8, -0.45, -0.3, -0.1, 0.5, 0.2, 0.4, 0.5],
    [0, -0.8, -2.1, -2.0, -1.6, -1.3, -1.0, -0.8, -0.6, -0.4, -0.3, -0.2, -0.1, 0.0, 0.05, 0.1, 0.15, 0.2],
    [0, -0.4, -0.9, -1.0, -0.9, -0.8, -0.6, -0.5, -0.4, -0.3, -0.2, -0.1, -0.05, 0.0, 0.05, 0.1, 0.1, 0.1],
    [0, -0.2, -0.4, -0.4, -0.35, -0.3, -0.25, -0.2, -0.15, -0.1, -0.05, 0, 0, 0, 0, 0, 0, 0],
    [0, 0.1, 0.1, 0.1, 0.1, 0.05, 0.05, 0.05, 0.05, 0.0, 0, 0, 0, 0, 0, 0, 0, 0],
    [0, 0.3, 0.9, 0.8, 0.5, 0.3, 0.2, 0.1, 0.05, 0, 0, 0, 0, 0, 0, 0, 0, 0],
    [0, 0.4, 1.3, 1.0, 0.6, 0.35, 0.2, 0.1, 0.05, 0.0, 0.0, 0.0, 0.0, 0.0, 0.0, -0.05, -0.1, -0.2],
    [0, 0.4, 1.0, 0.95, 0.95, 0.95, 0.9, 0.9, 0.85, 0.7, 0.6, 0.5, 0.5, 0.4, 0.35, 0.3, 0.2, 0.15],
    [0, 1.0, 2.9, 3.05, 2.6, 2.1, 1.7, 1.3, 0.9, 0.6, 0.35, 0.2, 0.0, -0.05, -0.1, -0.15, -0.2, -0.3],
]
PCI_SF5 = [
    [0, -2.0, -4.7, -3.6, -2.6, -1.9, -1.3, -0.8, -0.4, -0.1, 0.1, 0.4, 0.3, 0.6],
    [0, -1.0, -2.2, -1.5, -1.1, -0.8, -0.5, -0.3, -0.15, -0.05, 0.0, 0.1, 0.2, 0.2],
    [0, -0.4, -0.9, -0.7, -0.55, -0.4, -0.3, -0.2, -0.1, -0.05, 0, 0, 0, 0],
    [0, -0.1, -0.2, -0.15, -0.1, -0.05, 0, 0, 0, 0, 0, 0, 0, 0],
    [0, 0.2, 0.5, 0.3, 0.2, 0.1, 0.05, 0, 0, 0, 0, 0, 0, 0],
    [0, 0.3, 0.7, 0.9, 1.0, 1.0, 1.0, 0.95, 0.9, 0.8, 0.7, 0.6, 0.5, 0.4],
    [0, 1.0, 2.7, 1.7, 1.0, 0.6, 0.3, 0.15, 0.05, 0.0, 0.0, 0.0, 0.0, -0.05],
    [0, 0.2, 1.0, 1.1, 1.15, 1.2, 1.2, 1.1, 0.9, 0.8, 0.8, 0.6, 0.4, 0.35],
    [0, 1.5, 4.6, 3.3, 2.4, 1.7, 1.1, 0.6, 0.2, 0.0, -0.1, -0.15, -0.2, -0.4],
]
PCI_SF6 = [
    [0, -2.4, -5.0, -3.5, -2.3, -1.4, -0.7, -0.25, 0.0, 0.5, 0.4, 0.6],
    [0, -1.1, -2.3, -1.5, -0.9, -0.5, -0.25, -0.1, 0.0, 0.1, 0.15, 0.2],
    [0, -0.4, -0.8, -0.7, -0.5, -0.35, -0.2, -0.1, -0.05, 0.0, 0.05, 0.1],
    [0, -0.1, -0.2, -0.15, -0.1, -0.05, 0, 0, 0, 0, 0, 0],
    [0, 0.1, 0.2, 0.1, 0.05, 0, 0, 0, 0, 0, 0, 0],
    [0, 0.4, 0.8, 0.4, 0.2, 0.1, 0.05, 0, 0, 0, 0, 0],
    [0, 0.5, 0.9, 1.0, 1.05, 1.0, 0.95, 0.9, 0.8, 0.7, 0.6, 0.5],
    [0, 1.4, 2.75, 1.9, 1.3, 0.8, 0.4, 0.2, 0.0, -0.05, -0.1, -0.2],
    [0, 2.4, 5.0, 3.3, 2.2, 1.2, 0.5, 0.0, -0.2, -0.25, -0.3, -0.5],
]
PCI_SF7 = [
    [0, -4.4, -5.3, -3.0, -1.7, -0.8, -0.2, 0.15, 0.7, 0.7],
    [0, -1.9, -2.3, -1.3, -0.7, -0.35, -0.1, 0.0, 0.1, 0.2],
    [0, -0.2, -0.35, -0.7, -0.6, -0.45, -0.3, -0.15, -0.05, 0.0],
    [0, -0.8, -1.1, -0.6, -0.3, -0.15, -0.05, 0, 0, 0],
    [0, 0.2, 0.3, 0.1, 0.05, 0, 0, 0, 0, 0],
    [0, 1.0, 1.0, 0.3, 0.1, 0.0, -0.1, -0.05, 0.0, 0.0],
    [0, 0.5, 0.9, 1.2, 1.3, 1.2, 1.1, 0.9, 0.75, 0.6],
    [0, 2.2, 3.0, 2.0, 1.3, 0.7, 0.4, 0.2, 0.15, 0.1],
    [0, 4.3, 5.6, 3.7, 2.0, 0.8, 0.0, -0.3, -0.45, -0.5],
]
PCI_SF8 = [
    [0, -4.9, -4.9, -2.7, -1.4, -0.5, 0.0, 0.6, 0.8],
    [0, -2.3, -2.3, -1.3, -0.6, -0.2, 0.05, 0.3, 0.6],
    [0, -0.8, -1.0, -0.8, -0.5, -0.3, -0.1, 0.1, 0.2],
    [0, -0.3, -0.2, -0.1, 0, 0, 0, 0, 0],
    [0, 1.2, 0.9, 0.4, 0.1, 0.0, 0.0, 0.0, 0.0],
    [0, -0.3, 0.1, 0.4, 0.6, 0.5, 0.3, 0.1, 0.0],
    [0, 3.1, 3.1, 1.6, 0.6, 0.2, 0.0, -0.1, -0.2],
    [0, 1.3, 2.1, 2.1, 1.9, 1.5, 1.1, 0.8, 0.45],
    [0, 5.0, 5.6, 3.7, 2.2, 0.8, -0.1, -0.3, -0.55],
]

PANELS = [
    [SHAM_SF1, SHAM_SF2, SHAM_SF3, SHAM_SF4, SHAM_SF5, SHAM_SF6, SHAM_SF7, SHAM_SF8],
    [PCI_SF1, PCI_SF2, PCI_SF3, PCI_SF4, PCI_SF5, PCI_SF6, PCI_SF7, PCI_SF8],
]

# ---------------- layout geometry (pixels) ----------------
X_DOM_SHAM = [[96, 200], [236, 340], [377, 482], [506, 623],
              [661, 763], [802, 905], [942, 1047], [1083, 1186]]
X_DOM_PCI = [[96, 200], [236, 340], [377, 482], [518, 623],
             [661, 763], [802, 905], [942, 1047], [1083, 1186]]
Y_DOM = [[115, 226], [262, 385]]
LINE_W = [1.5, 1.6, 2.0, 2.0, 2.0, 2.0, 2.0, 2.0]


def px(x):
    return x / W


def py(y):
    return 1 - y / H


fig = go.Figure()
layout = {}
annotations = []
shapes = []
k = 0
for r in range(2):
    xdom = X_DOM_SHAM if r == 0 else X_DOM_PCI
    xr = XRANGE_SHAM if r == 0 else XRANGE_PCI
    yr = YRANGE_SHAM if r == 0 else YRANGE_PCI
    for c in range(8):
        k += 1
        xs = "x" if k == 1 else "x%d" % k
        ys = "y" if k == 1 else "y%d" % k
        for j, series in enumerate(PANELS[r][c]):
            t = [round(TIME_STEP[c] * (i + 1), 3) for i in range(len(series))]
            fig.add_trace(go.Scatter(
                x=t, y=series, mode="lines", name=CLUSTERS[j],
                line=dict(color=COLORS[j], width=LINE_W[c]),
                xaxis=xs, yaxis=ys, showlegend=False, hoverinfo="skip"))
        axis_common = dict(showline=True, linecolor="#3c3c3c", linewidth=1.3,
                           ticks="outside", ticklen=3, tickwidth=1, tickcolor="#555555",
                           showgrid=False, zeroline=False, tickangle=0,
                           tickfont=dict(family="Liberation Sans", size=8.5, color="#8a8a8a"))
        layout["xaxis" if k == 1 else "xaxis%d" % k] = dict(
            domain=[px(xdom[c][0]), px(xdom[c][1])], range=xr[c], anchor=ys,
            tickvals=XTICKS, ticktext=[str(v) for v in XTICKS], **axis_common)
        layout["yaxis" if k == 1 else "yaxis%d" % k] = dict(
            domain=[py(Y_DOM[r][1]), py(Y_DOM[r][0])], range=yr[c], anchor=xs,
            tickvals=YTICKS[c], ticktext=[str(v) for v in YTICKS[c]], **axis_common)
        cx = (xdom[c][0] + xdom[c][1]) / 2
        if r == 0:
            annotations.append(dict(text=TITLES[c], x=px(cx), y=py(102), xref="paper", yref="paper",
                                    showarrow=False, xanchor="center", yanchor="middle",
                                    font=dict(family="Liberation Sans", size=12, color="#111111")))
        else:
            annotations.append(dict(text="time (min)", x=px(cx), y=py(408), xref="paper", yref="paper",
                                    showarrow=False, xanchor="center", yanchor="middle",
                                    font=dict(family="Liberation Sans", size=11, color="#111111")))
    annotations.append(dict(text="time derivative (a.u.)", x=px(75), y=py((Y_DOM[r][0] + Y_DOM[r][1]) / 2),
                            xref="paper", yref="paper", showarrow=False, textangle=-90,
                            xanchor="center", yanchor="middle",
                            font=dict(family="Liberation Sans", size=10.5, color="#111111")))
    annotations.append(dict(text="<b>%s</b>" % ROWS[r], x=px(29), y=py(176 if r == 0 else 325),
                            xref="paper", yref="paper", showarrow=False, textangle=-90,
                            xanchor="center", yanchor="middle",
                            font=dict(family="Lato", size=42, color="#000000")))

annotations.append(dict(text="<b><i>k</i>&nbsp; =&nbsp; 9</b>", x=px(597), y=py(22), xref="paper", yref="paper",
                        showarrow=False, xanchor="center", yanchor="middle",
                        font=dict(family="Lato", size=30, color="#000000")))

annotations.append(dict(text="Cluster", x=px(545), y=py(67), xref="paper", yref="paper",
                        showarrow=False, xanchor="center", yanchor="middle",
                        font=dict(family="Liberation Sans", size=10, color="#222222")))
for j, lab in enumerate(CLUSTERS):
    col, row = j // 2, j % 2
    x0 = 568 + col * 33.3
    yc = 58 + row * 17.5
    shapes.append(dict(type="rect", xref="paper", yref="paper",
                       x0=px(x0), x1=px(x0 + 14), y0=py(yc + 2.8), y1=py(yc - 2.8),
                       fillcolor=COLORS[j], line=dict(width=0)))
    annotations.append(dict(text=lab, x=px(x0 + 21), y=py(yc), xref="paper", yref="paper",
                            showarrow=False, xanchor="left", yanchor="middle",
                            font=dict(family="Liberation Sans", size=9, color="#555555")))

fig.update_layout(width=W, height=H, margin=dict(l=0, r=0, t=0, b=0),
                  paper_bgcolor="white", plot_bgcolor="white",
                  showlegend=False, annotations=annotations, shapes=shapes, **layout)
fig.write_html("out.html", config={"displayModeBar": False},
               post_script="document.body.style.margin='0px';")
